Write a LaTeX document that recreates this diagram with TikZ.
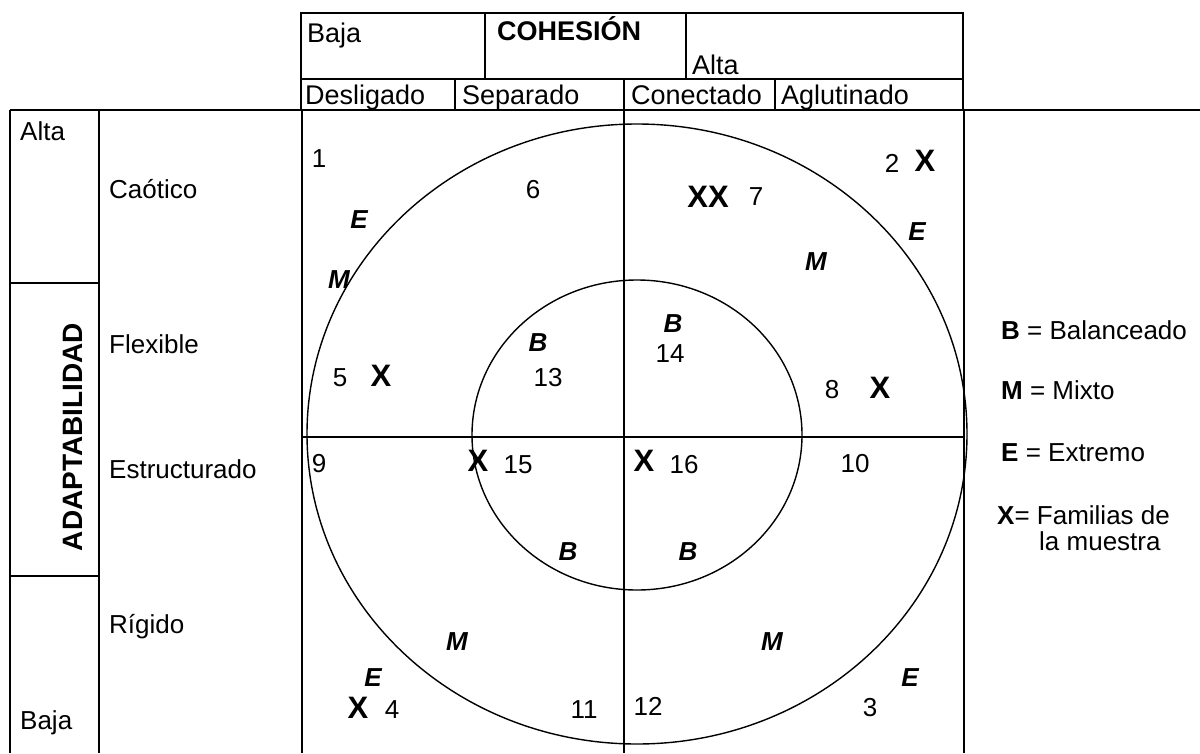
\documentclass[tikz,border=0pt]{standalone}
\usepackage{fontspec}
\setmainfont{Liberation Sans}
\begin{document}
\begin{tikzpicture}[x=1pt,y=-1pt,
  tbl/.style={line width=1.9pt},
  ring/.style={line width=1.4pt},
  txt/.style={font=\fontsize{26}{30}\selectfont, inner sep=0pt},
  lbl/.style={txt, anchor=base west},
  hdr/.style={font=\fontsize{27}{31}\selectfont, inner sep=0pt, anchor=base west},
  bx/.style={font=\fontsize{31}{35}\selectfont\bfseries, inner sep=0pt},
  lt/.style={font=\fontsize{26}{30}\selectfont\bfseries\itshape, inner sep=0pt}]
\useasboundingbox (0,0) rectangle (1200,753);
\clip (0,0) rectangle (1200,753);
% top header box
\draw[tbl] (301,13) rectangle (963,110);
\draw[tbl] (301,79) -- (963,79);
\draw[tbl] (485,13) -- (485,79);
\draw[tbl] (686,13) -- (686,79);
\draw[tbl] (455,79) -- (455,110);
\draw[tbl] (624,79) -- (624,110);
\draw[tbl] (775,79) -- (775,110);
% long top line
\draw[tbl] (10,110) -- (1200,110);
% left table
\draw[tbl] (10,110) -- (10,753);
\draw[tbl] (99,110) -- (99,753);
\draw[tbl] (302,110) -- (302,753);
\draw[tbl] (10,283) -- (99,283);
\draw[tbl] (10,576) -- (99,576);
% main chart
\draw[tbl] (624,110) -- (624,753);
\draw[tbl] (964,110) -- (964,753);
\draw[tbl] (302,437) -- (964,437);
\draw[ring] (637,434) ellipse [x radius=330pt, y radius=310pt];
\draw[ring] (637,435) ellipse [x radius=165pt, y radius=155pt];
% header texts
\node[hdr] (hbaja) at (307,42) {Baja};
\node[hdr, font=\fontsize{27}{31}\selectfont\bfseries] (hcoh) at (497,40) {COHESIÓN};
\node[hdr] (halta) at (692,74) {Alta};
\node[hdr] (hdes) at (305,104) {Desligado};
\node[hdr] (hsep) at (462,104) {Separado};
\node[hdr] (hcon) at (631,104) {Conectado};
\node[hdr] (hagl) at (781,104) {Aglutinado};
% left texts
\node[lbl] (lalta) at (20,140) {Alta};
\node[lbl] (lbaja) at (20,729) {Baja};
\node[txt, rotate=90, font=\fontsize{28}{32}\selectfont\bfseries] (ladapt) at (73,437) {ADAPTABILIDAD};
\node[lbl] (lcao) at (109,198) {Caótico};
\node[lbl] (lflex) at (109,353) {Flexible};
\node[lbl] (lest) at (109,478) {Estructurado};
\node[lbl] (lrig) at (109,633) {Rígido};
% chart contents - upper left
\node[txt] (n1) at (319,159) {1};
\node[txt] (n6) at (533,190) {6};
\node[lt] (e1) at (359,220) {E};
\node[lt] (m1) at (339,280) {M};
\node[txt] (n5) at (340,378) {5};
\node[bx] (x5) at (381,376) {X};
\node[lt] (b13) at (538,343) {B};
\node[txt] (n13) at (548,378) {13};
% upper right
\node[txt] (n2) at (892,163) {2};
\node[bx] (x2) at (925,161) {X};
\node[bx] (xx7) at (708,197) {XX};
\node[txt] (n7) at (756,197) {7};
\node[lt] (e2) at (917,232) {E};
\node[lt] (m2) at (816,262) {M};
\node[lt] (b14) at (673,324) {B};
\node[txt] (n14) at (670,354) {14};
\node[txt] (n8) at (832,390) {8};
\node[bx] (x8) at (880,388) {X};
% lower half
\node[txt] (n9) at (319,464) {9};
\node[bx] (x15) at (478,461) {X};
\node[txt] (n15) at (518,465) {15};
\node[bx] (x16) at (644,461) {X};
\node[txt] (n16) at (684,465) {16};
\node[txt] (n10) at (855,464) {10};
\node[lt] (b15) at (568,552) {B};
\node[lt] (b16) at (688,552) {B};
\node[lt] (m3) at (457,642) {M};
\node[lt] (m4) at (772,642) {M};
\node[lt] (e3) at (373,678) {E};
\node[lt] (e4) at (910,678) {E};
\node[bx] (x4) at (358,708) {X};
\node[txt] (n4) at (392,710) {4};
\node[txt] (n11) at (584,710) {11};
\node[txt] (n12) at (648,706) {12};
\node[txt] (n3) at (870,708) {3};
% legend
\node[lbl] (legb) at (1001,339) {\textbf{B} = Balanceado};
\node[lbl] (legm) at (1001,399) {\textbf{M} = Mixto};
\node[lbl] (lege) at (1001,461) {\textbf{E} = Extremo};
\node[lbl] (legx) at (997,524) {\textbf{X}= Familias de};
\node[lbl] (legx2) at (1039,550) {la muestra};
\end{tikzpicture}
\end{document}
